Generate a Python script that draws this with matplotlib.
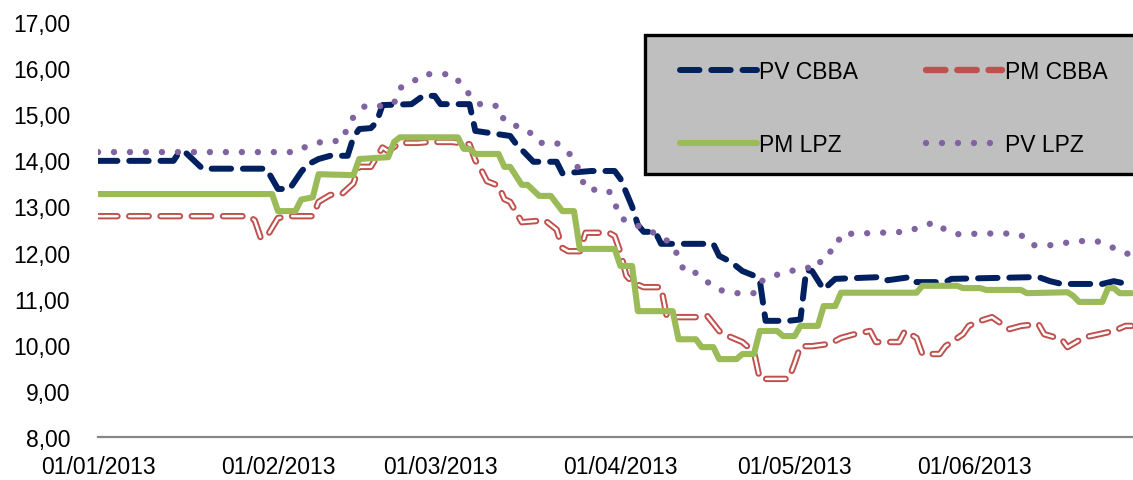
import matplotlib
matplotlib.use("Agg")
import matplotlib.pyplot as plt
import matplotlib.dates as mdates
from matplotlib.patches import Rectangle
from matplotlib.ticker import FuncFormatter
import numpy as np

plt.rcParams['font.family'] = ['Liberation Sans', 'DejaVu Sans']
plt.rcParams['lines.scale_dashes'] = False

START = np.datetime64('2013-01-01')

# vertices: day offset from 1 Jan 2013, value
pv_cbba_days = [0, 13, 14, 15, 18, 29, 30, 31, 33, 35, 36, 38, 40, 43, 44, 45, 47, 48, 49, 54,
                56, 58, 59, 64, 65, 71, 72, 74, 75, 79, 80, 85, 89, 90, 92, 93, 94, 96, 97, 106,
                107, 109, 111, 113, 114, 115, 119, 121, 122, 123, 125, 127, 135, 136, 140, 141,
                146, 147, 162, 164, 166, 173, 175, 178]
pv_cbba = [13.99, 13.99, 14.18, 14.18, 13.82, 13.82, 13.6, 13.38, 13.38, 13.75, 13.9, 14.03,
           14.1, 14.1, 14.5, 14.68, 14.7, 14.83, 15.2, 15.22, 15.4, 15.4, 15.22, 15.22, 14.64,
           14.53, 14.36, 14.1, 13.97, 13.97, 13.72, 13.77, 13.77, 13.6, 13.0, 12.6, 12.45,
           12.45, 12.19, 12.19, 11.93, 11.8, 11.6, 11.5, 11.4, 10.52, 10.52, 10.55, 11.62,
           11.6, 11.2, 11.43, 11.47, 11.4, 11.47, 11.36, 11.36, 11.43, 11.47, 11.38, 11.32,
           11.32, 11.38, 11.3]

pm_cbba_days = [0, 26, 27, 28, 29, 31, 33, 37, 38, 40, 42, 44, 45, 47, 49, 50, 52, 55, 57, 61,
                64, 65, 66, 67, 69, 70, 71, 73, 77, 79, 80, 81, 83, 84, 88, 89, 90, 91, 92, 94,
                97, 98, 103, 105, 107, 108, 111, 113, 114, 119, 120, 121, 123, 126, 128, 130,
                133, 134, 138, 139, 141, 142, 145, 146, 149, 150, 152, 154, 157, 159, 162, 163,
                166, 167, 170, 171, 175, 177, 178]
pm_cbba = [12.79, 12.79, 12.7, 12.33, 12.33, 12.75, 12.79, 12.79, 13.1, 13.25, 13.27, 13.5,
           13.86, 13.86, 14.28, 14.2, 14.38, 14.38, 14.4, 14.4, 14.35, 14.0, 13.8, 13.55,
           13.45, 13.16, 13.1, 12.66, 12.7, 12.5, 12.1, 12.03, 12.03, 12.43, 12.43, 12.36,
           12.0, 11.5, 11.36, 11.25, 11.25, 10.6, 10.6, 10.62, 10.3, 10.22, 10.06, 9.84, 9.26,
           9.26, 9.6, 9.97, 9.97, 10.02, 10.15, 10.22, 10.3, 10.06, 10.06, 10.3, 10.15, 9.8,
           9.8, 9.97, 10.23, 10.41, 10.52, 10.6, 10.34, 10.41, 10.45, 10.23, 10.12, 9.95,
           10.17, 10.19, 10.3, 10.41, 10.41]

pm_lpz_days = [0, 30, 31, 34, 35, 37, 38, 44, 45, 50, 51, 52, 62, 63, 64, 65, 69, 70, 71, 73,
               74, 76, 78, 80, 82, 83, 89, 90, 92, 93, 99, 100, 103, 104, 106, 107, 110, 111,
               113, 114, 117, 118, 120, 121, 124, 125, 127, 128, 141, 142, 148, 149, 152, 153,
               159, 160, 167, 168, 169, 173, 174, 175, 176, 178]
pm_lpz = [13.27, 13.27, 12.9, 12.9, 13.15, 13.2, 13.7, 13.68, 14.03, 14.07, 14.4, 14.5, 14.5,
          14.25, 14.25, 14.14, 14.14, 13.86, 13.86, 13.47, 13.47, 13.23, 13.23, 12.9, 12.9,
          12.08, 12.08, 11.71, 11.71, 10.73, 10.73, 10.12, 10.12, 9.95, 9.95, 9.69, 9.69,
          9.8, 9.8, 10.3, 10.3, 10.19, 10.19, 10.41, 10.41, 10.84, 10.84, 11.13, 11.13, 11.28,
          11.28, 11.23, 11.23, 11.19, 11.19, 11.12, 11.14, 11.06, 10.93, 10.93, 11.23, 11.23,
          11.12, 11.12]

pv_lpz_days = [0, 34, 36, 39, 42, 43, 44, 46, 49, 51, 52, 54, 56, 61, 63, 64, 66, 69, 70, 72,
               74, 76, 79, 81, 82, 83, 84, 88, 89, 90, 92, 95, 97, 99, 100, 101, 103, 105, 107,
               110, 113, 114, 116, 119, 121, 124, 125, 127, 128, 139, 142, 144, 146, 148, 156,
               159, 161, 164, 166, 169, 172, 174, 176, 178]
pv_lpz = [14.18, 14.18, 14.31, 14.42, 14.42, 14.72, 14.94, 15.18, 15.18, 15.24, 15.57, 15.68,
          15.87, 15.87, 15.6, 15.42, 15.2, 15.18, 14.85, 14.75, 14.66, 14.38, 14.38, 14.16,
          14.07, 13.72, 13.38, 13.34, 13.08, 12.75, 12.64, 12.47, 12.36, 12.16, 11.9, 11.58,
          11.56, 11.36, 11.19, 11.12, 11.12, 11.36, 11.49, 11.58, 11.67, 11.67, 11.97, 12.06,
          12.4, 12.45, 12.56, 12.66, 12.49, 12.4, 12.42, 12.38, 12.16, 12.16, 12.2, 12.25,
          12.25, 12.16, 12.03, 11.95]

month_ticks = ['2013-01-01', '2013-02-01', '2013-03-01', '2013-04-01', '2013-05-01', '2013-06-01']
y_ticks = [8, 9, 10, 11, 12, 13, 14, 15, 16, 17]


def to_dates(days):
    return START + np.array(days, dtype='timedelta64[D]')


navy = '#002060'
red = '#C0504D'
green = '#9BBB59'
purple = '#8064A2'

fig = plt.figure(figsize=(11.33, 4.81), dpi=100)
ax = fig.add_axes([0.0865, 0.0894, 0.9135, 0.8626])

dash = (14, 8.5)
h1, = ax.plot(to_dates(pv_cbba_days), pv_cbba, color=navy, lw=4.3, dashes=dash,
              dash_capstyle='round', label='PV CBBA', zorder=1)
h2, = ax.plot(to_dates(pm_cbba_days), pm_cbba, color=red, lw=4.6, dashes=dash,
              dash_capstyle='round', label='PM CBBA', zorder=2)
ax.plot(to_dates(pm_cbba_days), pm_cbba, color='white', lw=1.8, dashes=dash,
        dash_capstyle='round', zorder=2)
h3, = ax.plot(to_dates(pm_lpz_days), pm_lpz, color=green, lw=4.4,
              solid_capstyle='round', solid_joinstyle='round', label='PM LPZ', zorder=3)
h4, = ax.plot(to_dates(pv_lpz_days), pv_lpz, color=purple, lw=4.6, dashes=(0.01, 11.5),
              dash_capstyle='round', label='PV LPZ', zorder=4)

ax.set_ylim(8, 17)
ax.set_xlim(START, START + np.timedelta64(178 * 24 + 7, 'h'))
ax.set_yticks(y_ticks)
ax.yaxis.set_major_formatter(FuncFormatter(lambda v, p: f'{v:.2f}'.replace('.', ',')))
ax.set_xticks(np.array(month_ticks, dtype='datetime64[D]'))
ax.xaxis.set_major_formatter(mdates.DateFormatter('%d/%m/%Y'))
ax.tick_params(axis='both', length=0, labelsize=16.5, colors='black')
ax.tick_params(axis='y', pad=20)
ax.tick_params(axis='x', pad=13)

for side in ['top', 'right', 'left']:
    ax.spines[side].set_visible(False)
ax.spines['bottom'].set_color('#868686')
ax.spines['bottom'].set_linewidth(1.6)

# legend box runs past the right edge of the picture
box = Rectangle((645 / 1133, 1 - 175 / 481), 0.45, 139 / 481, transform=fig.transFigure,
                facecolor='#BFBFBF', edgecolor='black', linewidth=2.4, zorder=9)
fig.patches.append(box)

leg = fig.legend([h1, h3, h2, h4], ['PV CBBA', 'PM LPZ', 'PM CBBA', 'PV LPZ'],
                 ncol=2, loc='upper left', bbox_to_anchor=(680 / 1133, 1 - 61 / 481),
                 fontsize=16.5, frameon=False,
                 handlelength=3.35, handletextpad=0.1, columnspacing=2.95,
                 labelspacing=2.2, borderpad=0, borderaxespad=0)
leg.set_zorder(10)
leg.get_lines()[2].set_color(red)

fig.savefig('out.png', dpi=100)
